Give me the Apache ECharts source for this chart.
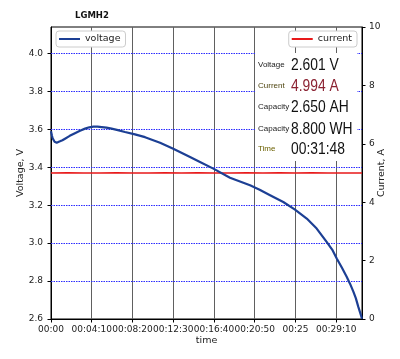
<!DOCTYPE html>
<html>
<head>
<meta charset="utf-8">
<script src="https://cdn.jsdelivr.net/npm/echarts@6/dist/echarts.min.js"></script>
<style>html,body{margin:0;padding:0;background:#fff;}#c{width:400px;height:359px;}</style>
</head>
<body>
<div id="c"></div>
<script>
// Data (time in seconds)
const voltageTime = [0,3,6,10,15,22,35,45,55,70,86,115,147,178,209,235,260,285,311,340,372,410,454,515,577,669,750,853,914,996,1098,1221,1280,1344,1425,1497,1569,1630,1691,1725,1753,1785,1814,1835,1855,1870,1885,1898,1908];
const voltage = [3.59,3.578,3.566,3.553,3.543,3.535,3.53,3.531,3.537,3.543,3.551,3.566,3.58,3.593,3.604,3.611,3.615,3.615,3.612,3.609,3.604,3.596,3.586,3.574,3.559,3.53,3.498,3.454,3.428,3.393,3.345,3.305,3.282,3.253,3.217,3.177,3.13,3.077,3.007,2.966,2.919,2.87,2.823,2.785,2.744,2.71,2.665,2.63,2.601];
const currentTime = [0,100,200,300,400,500,600,700,800,900,1000,1100,1200,1300,1400,1500,1600,1700,1800,1908];
const current = [5.00,5.01,5.00,5.00,5.01,5.00,5.00,5.01,5.00,5.01,5.00,5.00,5.01,5.00,5.01,5.00,5.01,5.00,5.00,5.00];
const xTickLabels = ['00:00','00:04:10','00:08:20','00:12:30','00:16:40','00:20:50','00:25','00:29:10'];
const voltageGridTicks = [2.8,3.0,3.2,3.4,3.6,3.8,4.0];
const infoLabels = ['Voltage','Current','Capacity','Capacity','Time'];
const infoValues = ['2.601 V','4.994 A','2.650 AH','8.800 WH','00:31:48'];
const infoLabelColors = ['#222','#4f4510','#222','#222','#6b6000'];
const infoValueColors = ['#111','#8b2232','#111','#111','#111'];

const chart = echarts.init(document.getElementById('c'), null, {renderer:'canvas'});
const F = 'DejaVu Sans';
const rowY = [65, 86, 107, 129, 149];
const graphics = [{type:'rect', zlevel:1, z:100, shape:{x:255,y:53,width:102,height:108}, style:{fill:'#ffffff'}}];
infoLabels.forEach((l,i)=>{
  graphics.push({type:'text', zlevel:1, x:258, y:rowY[i], z:101, style:{text:l, fill:infoLabelColors[i], font:'8px "Liberation Sans"', textVerticalAlign:'middle'}});
  graphics.push({type:'text', zlevel:1, x:291, y:rowY[i], scaleX:0.84, z:101, style:{text:infoValues[i], fill:infoValueColors[i], font:'16.5px "Liberation Sans"', textVerticalAlign:'middle'}});
});

chart.setOption({
  animation:false,
  backgroundColor:'#fff',
  textStyle:{fontFamily:F},
  title:{text:'LGMH2', left:70, top:6, textStyle:{fontSize:8.5, fontWeight:'bold', color:'#111', fontFamily:F}},
  grid:{left:51, top:27, width:311, height:292, show:true, borderColor:'#000', borderWidth:1, backgroundColor:'transparent'},
  legend:[
    {data:['voltage'], left:56, top:31, icon:'rect', itemWidth:21, itemHeight:2, itemGap:5,
     backgroundColor:'#fff', borderColor:'#ccc', borderWidth:1, borderRadius:3, padding:[3,5,3,3],
     textStyle:{fontSize:9.5, color:'#222', fontFamily:F}},
    {data:['current'], right:43, top:31, icon:'rect', itemWidth:21, itemHeight:2, itemGap:5,
     backgroundColor:'#fff', borderColor:'#ccc', borderWidth:1, borderRadius:3, padding:[3,5,3,3],
     textStyle:{fontSize:9.5, color:'#222', fontFamily:F}}
  ],
  xAxis:{type:'value', min:0, max:1908, interval:250, name:'time', nameLocation:'middle', nameGap:17, nameMoveOverlap:false,
    nameTextStyle:{fontSize:9.5, color:'#222', fontFamily:F},
    axisLine:{show:true, lineStyle:{color:'#000', width:1}},
    axisTick:{show:true, length:3.5, lineStyle:{color:'#000'}},
    axisLabel:{fontSize:9, color:'#222', margin:6, fontFamily:F, showMaxLabel:false,
      formatter:v=> (Math.abs(v%250)<1e-6 ? (xTickLabels[Math.round(v/250)]||'') : '')},
    splitLine:{show:true, lineStyle:{color:'#606060', width:1, type:'solid'}}
  },
  yAxis:[
    {type:'value', min:2.6, max:4.14, interval:0.2, position:'left', name:'Voltage, V', nameLocation:'middle', nameGap:25, nameMoveOverlap:false,
      nameTextStyle:{fontSize:9.5, color:'#222', fontFamily:F},
      axisLine:{show:true, lineStyle:{color:'#000', width:1}},
      axisTick:{show:true, length:3.5, lineStyle:{color:'#000'}},
      axisLabel:{fontSize:9, color:'#222', margin:8, fontFamily:F, showMaxLabel:false,
        formatter:v=> (Math.abs(v*5-Math.round(v*5))<1e-6 ? v.toFixed(1) : '')},
      splitLine:{show:false}
    },
    {type:'value', min:0, max:10, interval:2, position:'right', name:'Current, A', nameLocation:'middle', nameGap:15, nameMoveOverlap:false,
      nameTextStyle:{fontSize:9.5, color:'#222', fontFamily:F},
      axisLine:{show:true, lineStyle:{color:'#000', width:1}},
      axisTick:{show:true, length:3.5, lineStyle:{color:'#000'}},
      axisLabel:{fontSize:9, color:'#222', margin:7, fontFamily:F},
      splitLine:{show:false}
    }
  ],
  series:[
    {name:'voltage', type:'line', yAxisIndex:0, data:voltageTime.map((t,i)=>[t,voltage[i]]),
      showSymbol:false, smooth:false, lineStyle:{color:'#1c3f94', width:2.2, join:'round'}, itemStyle:{color:'#1c3f94'}, z:3,
      markLine:{silent:true, symbol:['none','none'], label:{show:false}, z:1,
        lineStyle:{color:'#2b2bff', width:1, type:[1.5,1], opacity:1},
        emphasis:{disabled:true},
        data:voltageGridTicks.map(v=>({yAxis:v, lineStyle:{color:'#2b2bff'}}))}},
    {name:'current', type:'line', yAxisIndex:1, data:currentTime.map((t,i)=>[t,current[i]]),
      showSymbol:false, lineStyle:{color:'#e8191a', width:1.6}, itemStyle:{color:'#e8191a'}, z:2}
  ],
  graphic:graphics
});
</script>
</body>
</html>
